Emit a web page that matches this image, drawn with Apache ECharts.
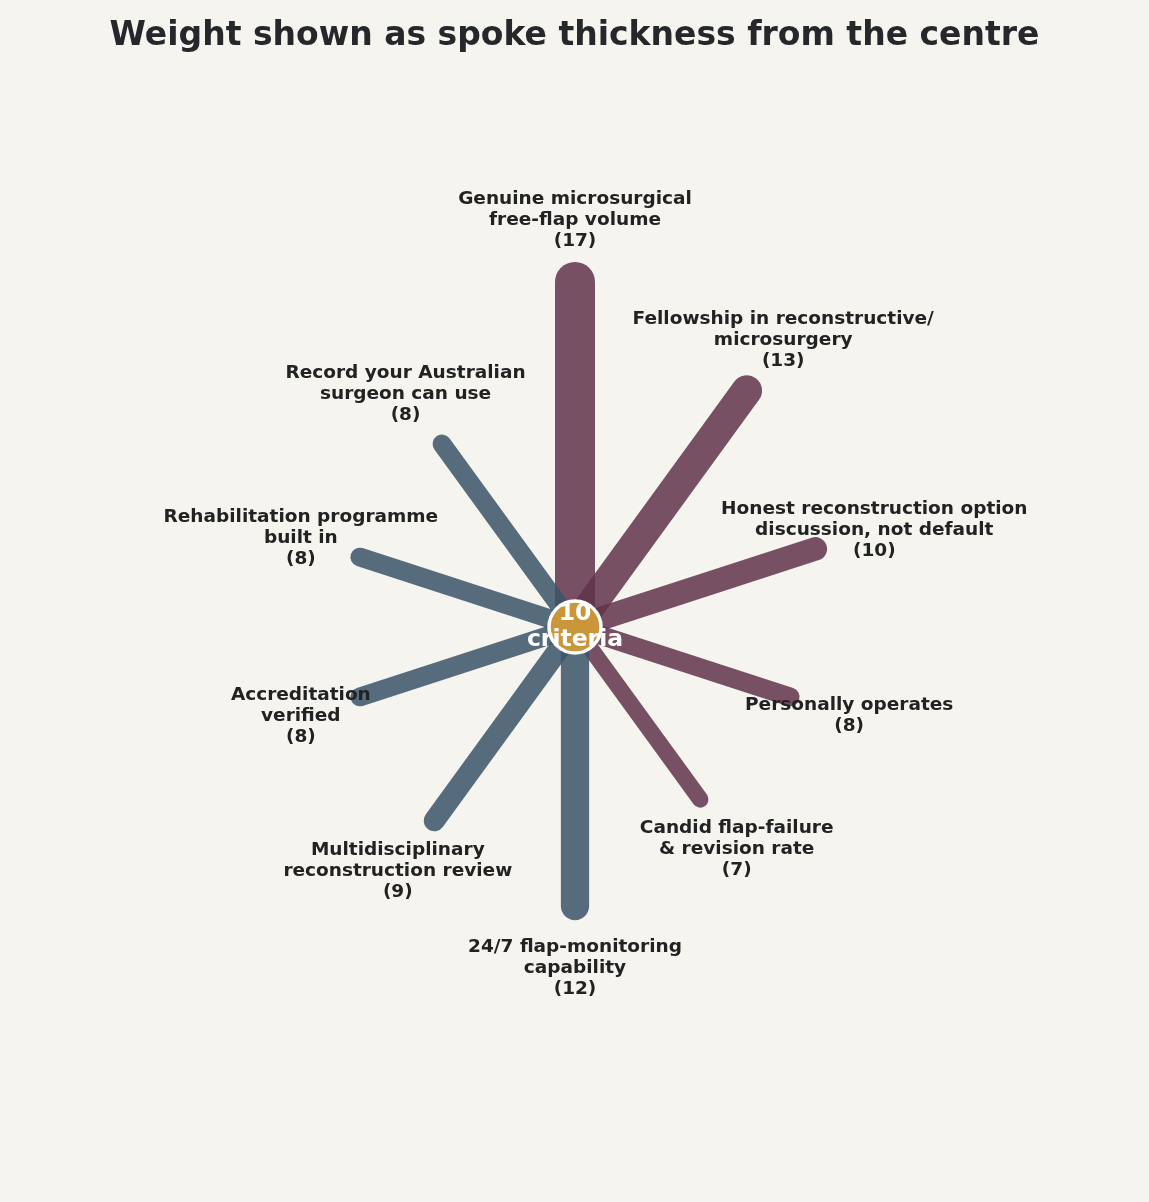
<!DOCTYPE html>
<html>
<head>
<meta charset="utf-8">
<script src="https://cdn.jsdelivr.net/npm/echarts@6/dist/echarts.min.js"></script>
<style>
html,body{margin:0;padding:0;background:#f5f4ef;}
#chart{width:1149px;height:1202px;}
</style>
</head>
<body>
<div id="chart"></div>
<script>
// ---- data ----
const categories = [
  "Genuine microsurgical\nfree-flap volume",
  "Fellowship in reconstructive/\nmicrosurgery",
  "Honest reconstruction option\ndiscussion, not default",
  "Personally operates",
  "Candid flap-failure\n& revision rate",
  "24/7 flap-monitoring\ncapability",
  "Multidisciplinary\nreconstruction review",
  "Accreditation\nverified",
  "Rehabilitation programme\nbuilt in",
  "Record your Australian\nsurgeon can use"
];
const weights = [17, 13, 10, 8, 7, 12, 9, 8, 8, 8];
const groupColors = ["rgba(97,50,74,0.85)", "rgba(58,83,104,0.85)"];

// ---- layout constants ----
const CX = 575, CY = 627;
const PX_PER_UNIT = 345;          // length of the longest spoke in px
const R_MAX = 1.32;               // radius axis max (normalised)
const LABEL_GAP = 62 / PX_PER_UNIT;
const WIDTH_PER_WEIGHT = 40 / 17;

const n = categories.length;
const maxW = Math.max(...weights);
const spokeLen = w => 0.35 + 0.65 * w / maxW;

const series = [];
weights.forEach((w, i) => {
  const ang = i * 360 / n;
  series.push({
    type: 'line',
    coordinateSystem: 'polar',
    data: [[0, ang], [spokeLen(w), ang]],
    symbol: 'none',
    silent: true,
    z: 2,
    lineStyle: {
      width: w * WIDTH_PER_WEIGHT,
      color: groupColors[i < n / 2 ? 0 : 1],
      cap: 'round'
    }
  });
});

series.push({
  type: 'scatter',
  coordinateSystem: 'polar',
  symbolSize: 0,
  silent: true,
  z: 5,
  itemStyle: { opacity: 1 },
  data: weights.map((w, i) => ({
    value: [spokeLen(w) + LABEL_GAP, i * 360 / n],
    name: categories[i] + "\n(" + w + ")"
  })),
  label: {
    show: true,
    position: 'inside',
    formatter: p => p.name,
    fontFamily: 'DejaVu Sans',
    fontWeight: 'bold',
    fontSize: 18.5,
    lineHeight: 21,
    color: '#222222',
    opacity: 1,
    align: 'center',
    verticalAlign: 'middle'
  }
});

series.push({
  type: 'scatter',
  coordinateSystem: 'polar',
  silent: true,
  z: 10,
  symbol: 'circle',
  symbolSize: 52,
  itemStyle: { color: '#c9973a', borderColor: '#ffffff', borderWidth: 3.5, opacity: 1 },
  data: [[0, 0]],
  label: {
    show: true,
    position: 'inside',
    formatter: n + "\ncriteria",
    fontFamily: 'DejaVu Sans',
    fontWeight: 'bold',
    fontSize: 23.5,
    lineHeight: 26,
    color: '#ffffff',
    opacity: 1
  }
});

const chart = echarts.init(document.getElementById('chart'), null, { renderer: 'canvas' });
chart.setOption({
  backgroundColor: '#f5f4ef',
  animation: false,
  title: {
    text: 'Weight shown as spoke thickness from the centre',
    left: 'center',
    top: 15,
    textStyle: { fontFamily: 'DejaVu Sans', fontWeight: 'bold', fontSize: 33, color: '#25272b' }
  },
  polar: { center: [CX, CY], radius: R_MAX * PX_PER_UNIT },
  angleAxis: {
    type: 'value', min: 0, max: 360, startAngle: 90, clockwise: true,
    show: false
  },
  radiusAxis: { type: 'value', min: 0, max: R_MAX, show: false },
  series: series
});
</script>
</body>
</html>
